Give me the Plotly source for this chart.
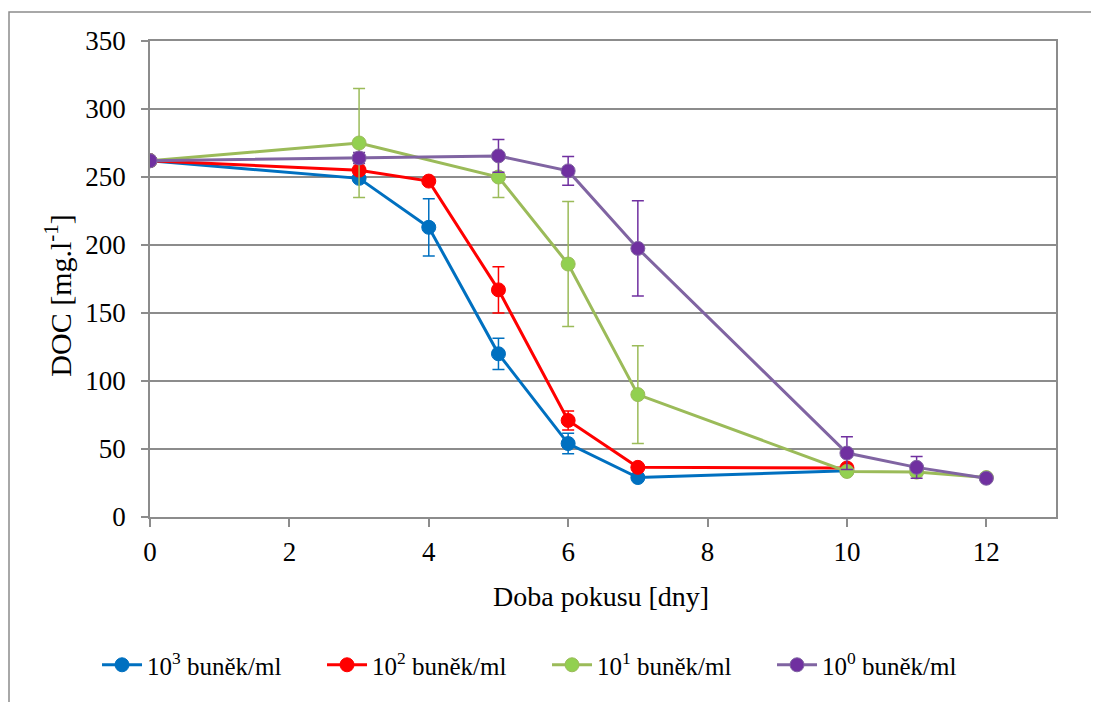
import plotly.graph_objects as go

days_a = [0, 3, 4, 5, 6, 7, 10]
doc_1e3 = [262, 249, 213, 120, 54, 29, 34]
err_1e3 = [0, 0, 21, 11.5, 7.5, 0, 0]

doc_1e2 = [262, 255, 247, 167, 71, 36.5, 36]
err_1e2 = [0, 0, 0, 17, 7, 0, 0]

days_b = [0, 3, 5, 6, 7, 10, 11, 12]
doc_1e1 = [262, 275, 250, 186, 90, 33.5, 33, 29]
err_1e1 = [0, 40, 15, 46, 36, 0, 0, 0]

days_c = [0, 3, 5, 6, 7, 10, 11, 12]
doc_1e0 = [262, 264, 265.5, 254.5, 197.5, 47, 36.5, 28.5]
err_1e0 = [0, 4, 12, 10.5, 35, 12, 8, 0]

names = ["10<sup>3</sup> buněk/ml", "10<sup>2</sup> buněk/ml",
         "10<sup>1</sup> buněk/ml", "10<sup>0</sup> buněk/ml"]
x_title = "Doba pokusu [dny]"
y_title = "DOC [mg.l<sup>-1</sup>]"

FONT = "Liberation Serif, Times New Roman, serif"
TICK = dict(family=FONT, size=27, color="black")
XTIT = dict(family=FONT, size=28, color="black")
YTIT = dict(family=FONT, size=30, color="black")
LEG = dict(family=FONT, size=25, color="black")

series = [
    (days_a, doc_1e3, err_1e3, "#0070C0", "#0070C0", "#0070C0"),
    (days_a, doc_1e2, err_1e2, "#FF0000", "#FF0000", "#FF0000"),
    (days_b, doc_1e1, err_1e1, "#9BBB59", "#92D050", "#9BBB59"),
    (days_c, doc_1e0, err_1e0, "#8064A2", "#7030A0", "#7030A0"),
]

fig = go.Figure()
for (x, y, e, lc, mc, ec), nm in zip(series, names):
    fig.add_trace(go.Scatter(
        x=x, y=y, name=nm, mode="lines+markers",
        line=dict(color=lc, width=3),
        marker=dict(color=mc, size=14, line=dict(color=lc, width=1)),
        error_y=dict(type="data", array=e, visible=True, color=ec,
                     thickness=1.5, width=6),
    ))

# page body has an 8px margin: shift plot area accordingly
fig.update_layout(
    width=1099, height=702,
    margin=dict(l=142, r=51, t=33, b=193, autoexpand=False),
    paper_bgcolor="white", plot_bgcolor="white",
    font=TICK,
    showlegend=True,
    legend=dict(orientation="h", xref="container", x=0.081, xanchor="left",
                y=-0.311, yanchor="middle", font=LEG,
                entrywidth=170, entrywidthmode="pixels",
                itemwidth=40, traceorder="normal"),
    xaxis=dict(range=[0, 13], tickvals=[0, 2, 4, 6, 8, 10, 12],
               showgrid=False, zeroline=False,
               showline=True, linecolor="#8c8c8c", linewidth=1.5, mirror=True,
               ticks="outside", ticklen=8, tickcolor="#8c8c8c", tickwidth=1.5,
               ticklabelstandoff=2, tickfont=TICK),
    yaxis=dict(range=[0, 350], dtick=50,
               showgrid=True, gridcolor="#8c8c8c", gridwidth=1.5,
               zeroline=False,
               showline=True, linecolor="#8c8c8c", linewidth=1.5, mirror=True,
               ticks="outside", ticklen=7, tickcolor="#8c8c8c", tickwidth=1.5,
               ticklabelstandoff=10, tickfont=TICK),
    annotations=[
        dict(text=x_title, xref="paper", yref="paper", x=0.498, y=-0.168,
             xanchor="center", yanchor="middle", showarrow=False, font=XTIT),
        dict(text=y_title, xref="paper", yref="paper", x=-0.1015, y=0.465,
             xanchor="center", yanchor="middle", showarrow=False,
             textangle=-90, font=YTIT),
    ],
    shapes=[dict(type="rect", xref="paper", yref="paper",
                 x0=(9 - 150) / 906, x1=(1092 - 150) / 906,
                 y0=(517 - 720) / 476, y1=(517 - 12) / 476,
                 line=dict(color="#8c8c8c", width=1.5), layer="below")],
)

fig.write_html("out.html")
